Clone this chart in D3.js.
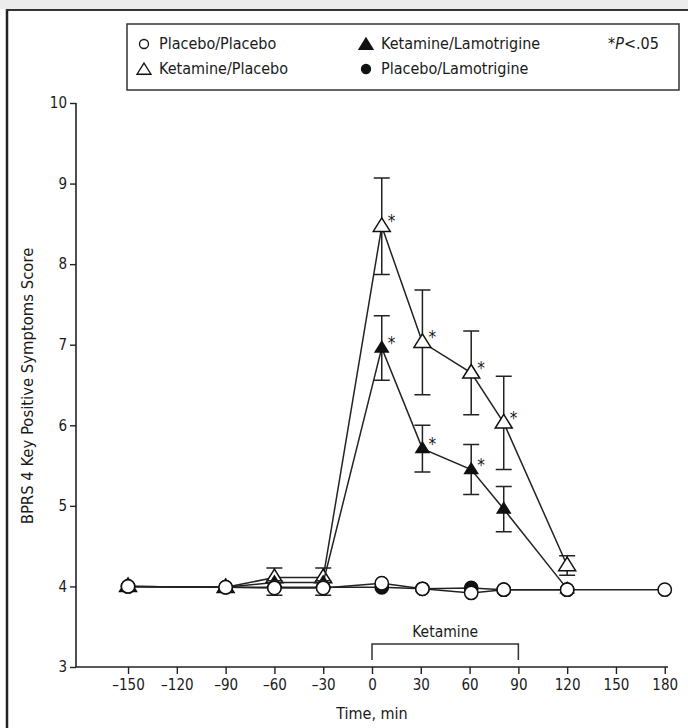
<!DOCTYPE html>
<html>
<head>
<meta charset="utf-8">
<script src="https://cdn.jsdelivr.net/npm/d3@7"></script>
<style>
  body { margin: 0; background: #fff; }
  svg text { font-family: "DejaVu Sans Condensed", "Liberation Sans", sans-serif; fill: #1a1a1a; }
</style>
</head>
<body>
<svg width="688" height="728"></svg>
<script>
// time points (min)
const ppTime = [-150, -90, -60, -30, 6, 31, 61, 81, 120, 180];
const kpTime = [-150, -90, -60, -30, 6, 31, 61, 81, 120];
const klTime = [-150, -90, -60, -30, 6, 31, 61, 81, 120];
const plTime = [-150, -90, -60, -30, 6, 31, 61, 81, 120];

// Placebo/Placebo
const ppMean = [4.0, 3.99, 3.98, 3.98, 4.04, 3.97, 3.92, 3.96, 3.96, 3.96];
const ppErr  = [0, 0, 0.09, 0.09, 0, 0, 0, 0, 0, 0];
// Ketamine/Placebo
const kpMean = [4.0, 3.99, 4.11, 4.11, 8.47, 7.03, 6.65, 6.03, 4.26];
const kpErr  = [0, 0, 0.12, 0.12, 0.6, 0.65, 0.52, 0.58, 0.12];
const kpSig  = [0, 0, 0, 0, 1, 1, 1, 1, 0];
// Ketamine/Lamotrigine
const klMean = [4.0, 3.99, 4.05, 4.05, 6.96, 5.71, 5.45, 4.96, 3.97];
const klErr  = [0, 0, 0, 0, 0.4, 0.29, 0.31, 0.28, 0];
const klSig  = [0, 0, 0, 0, 1, 1, 1, 0, 0];
// Placebo/Lamotrigine
const plMean = [4.0, 3.99, 3.99, 3.99, 3.99, 3.97, 3.98, 3.96, 3.96];

const xTicks = [-150, -120, -90, -60, -30, 0, 30, 60, 90, 120, 150, 180];
const yTicks = [3, 4, 5, 6, 7, 8, 9, 10];
const infusion = [0, 90];

const svg = d3.select('svg');

const xScale = d3.scaleLinear().domain([-182, 182]).range([76, 668]);
const yScale = d3.scaleLinear().domain([3, 10]).range([667, 103]);

// page frame
svg.append('rect').attr('x', 0).attr('y', 0).attr('width', 688).attr('height', 9).attr('fill', '#ececec');
svg.append('line').attr('x1', 7).attr('x2', 7).attr('y1', 9).attr('y2', 728)
  .attr('stroke', '#222').attr('stroke-width', 2.5);
svg.append('line').attr('x1', 6).attr('x2', 688).attr('y1', 10).attr('y2', 10)
  .attr('stroke', '#333').attr('stroke-width', 1.8);

const mk = (t, m, e, s) => t.map((d, i) => ({ t: d, v: m[i], e: e ? e[i] : 0, s: s ? s[i] : 0 }));
const series = [
  { name: 'Ketamine/Placebo', data: mk(kpTime, kpMean, kpErr, kpSig), shape: 'tri', fill: '#fff', size: 17 },
  { name: 'Ketamine/Lamotrigine', data: mk(klTime, klMean, klErr, klSig), shape: 'tri', fill: '#111', size: 13 },
  { name: 'Placebo/Lamotrigine', data: mk(plTime, plMean), shape: 'circ', fill: '#111', size: 140 },
  { name: 'Placebo/Placebo', data: mk(ppTime, ppMean, ppErr), shape: 'circ', fill: '#fff', size: 140 }
];

// axes
const yAxis = d3.axisLeft(yScale).tickValues(yTicks).tickSize(6).tickSizeOuter(0).tickPadding(3)
  .tickFormat(d3.format('d'));
const yG = svg.append('g').attr('transform', 'translate(76,0)').call(yAxis);
const xAxis = d3.axisBottom(xScale).tickValues(xTicks).tickSize(7).tickSizeOuter(0).tickPadding(5)
  .tickFormat(d => d < 0 ? '\u2013' + Math.abs(d) : d);
const xG = svg.append('g').attr('transform', 'translate(0,667)').call(xAxis);
[yG, xG].forEach(g => {
  g.select('.domain').attr('stroke', '#222').attr('stroke-width', 1.6);
  g.selectAll('.tick line').attr('stroke', '#222').attr('stroke-width', 1.4);
  g.selectAll('.tick text').attr('font-size', 15).attr('fill', '#1a1a1a')
    .style('font-family', '"DejaVu Sans Condensed", sans-serif');
});
yG.select('.domain').attr('d', 'M0,667V103');
xG.select('.domain').attr('d', 'M76,0H668');

svg.append('text')
  .attr('transform', 'translate(33,386) rotate(-90)')
  .attr('text-anchor', 'middle')
  .attr('font-size', 16.5)
  .text('BPRS 4 Key Positive Symptoms Score');
svg.append('text')
  .attr('x', xScale(0)).attr('y', 719)
  .attr('text-anchor', 'middle')
  .attr('font-size', 16)
  .text('Time, min');

// ketamine infusion bracket
const bx0 = xScale(infusion[0]), bx1 = xScale(infusion[1]);
svg.append('path')
  .attr('d', `M${bx0},660V644H${bx1}V660`)
  .attr('fill', 'none').attr('stroke', '#333').attr('stroke-width', 1.5);
svg.append('text')
  .attr('x', (bx0 + bx1) / 2).attr('y', 637)
  .attr('text-anchor', 'middle').attr('font-size', 15.5)
  .text('Ketamine');

const triPath = (cx, cy, w) => {
  const h = w * 0.8;
  return `M${cx},${cy - h * 0.62}L${cx + w / 2},${cy + h * 0.38}L${cx - w / 2},${cy + h * 0.38}Z`;
};

const line = d3.line().x(d => xScale(d.t)).y(d => yScale(d.v));
const plot = svg.append('g');

series.forEach(s => {
  const g = plot.append('g');
  // error bars
  s.data.filter(d => d.e > 0).forEach(d => {
    const x = xScale(d.t), y0 = yScale(d.v - d.e), y1 = yScale(d.v + d.e);
    g.append('path')
      .attr('d', `M${x},${y0}V${y1}M${x - 8},${y1}H${x + 8}M${x - 8},${y0}H${x + 8}`)
      .attr('stroke', '#222').attr('stroke-width', 1.5).attr('fill', 'none');
  });
  g.append('path').datum(s.data).attr('d', line)
    .attr('fill', 'none').attr('stroke', '#222').attr('stroke-width', 1.5);
  g.selectAll('.m').data(s.data).enter().append('path')
    .attr('d', d => s.shape === 'tri'
      ? triPath(xScale(d.t), yScale(d.v), s.size)
      : d3.symbol(d3.symbolCircle, s.size)())
    .attr('transform', d => s.shape === 'tri' ? null : `translate(${xScale(d.t)},${yScale(d.v)})`)
    .attr('fill', s.fill).attr('stroke', '#111').attr('stroke-width', 1.5);
  g.selectAll('.sig').data(s.data.filter(d => d.s)).enter().append('text')
    .attr('x', d => xScale(d.t) + 6).attr('y', d => yScale(d.v) + 1)
    .attr('font-size', 17).attr('fill', '#333')
    .text('*');
});

// legend
const lg = svg.append('g');
lg.append('rect').attr('x', 127).attr('y', 24).attr('width', 552).attr('height', 66)
  .attr('fill', '#fff').attr('stroke', '#333').attr('stroke-width', 1.5);
const legendItems = [
  { s: series[3], x: 144, y: 44 },
  { s: series[0], x: 144, y: 69 },
  { s: series[1], x: 366, y: 44 },
  { s: series[2], x: 366, y: 69 }
];
legendItems.forEach(it => {
  if (it.s.shape === 'tri') {
    lg.append('path').attr('d', triPath(it.x, it.y + 1, 14))
      .attr('fill', it.s.fill).attr('stroke', '#111').attr('stroke-width', 1.3);
  } else {
    lg.append('circle').attr('cx', it.x).attr('cy', it.y).attr('r', 4.5)
      .attr('fill', it.s.fill).attr('stroke', '#111').attr('stroke-width', 1.3);
  }
  lg.append('text').attr('x', it.x + 15).attr('y', it.y + 5)
    .attr('font-size', 16).text(it.s.name);
});
const pt = lg.append('text').attr('x', 608).attr('y', 49).attr('font-size', 16);
pt.append('tspan').text('*');
pt.append('tspan').attr('font-style', 'italic').text('P');
pt.append('tspan').text('<.05');
</script>
</body>
</html>
